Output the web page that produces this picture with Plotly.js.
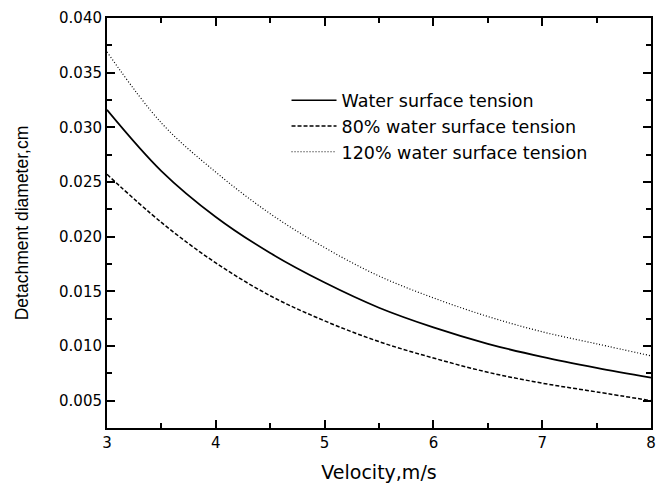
<!DOCTYPE html>
<html>
<head>
<meta charset="utf-8">
<script src="https://cdn.plot.ly/plotly-3.0.1.min.js"></script>
<style>html,body{margin:0;padding:0;background:#fff;}#chart{width:666px;height:484px;}</style>
</head>
<body>
<div id="chart"></div>
<script>
const velocity = [3, 3.5, 4, 4.5, 5, 5.5, 6, 6.5, 7, 7.5, 8];
const waterTension = [0.0316, 0.0260, 0.0218, 0.0185, 0.0158, 0.0135, 0.0117, 0.0102, 0.0090, 0.0080, 0.0071];
const tension80 = [0.0257, 0.0213, 0.0176, 0.0146, 0.0123, 0.0104, 0.0089, 0.0076, 0.0066, 0.0058, 0.0050];
const tension120 = [0.0369, 0.0304, 0.0259, 0.0221, 0.0190, 0.0164, 0.0144, 0.0127, 0.0113, 0.0102, 0.0091];
const seriesNames = ["Water surface tension", "80% water surface tension", "120% water surface tension"];

const wideFont = "DejaVu Sans, Verdana, sans-serif";
const font = "Liberation Sans, Arial, sans-serif";
const traces = [
  {x: velocity, y: waterTension, name: seriesNames[0], mode: "lines",
   line: {color: "#000", width: 1.7, shape: "spline", dash: "solid"}},
  {x: velocity, y: tension80, name: seriesNames[1], mode: "lines",
   line: {color: "#000", width: 1.5, shape: "spline", dash: "4px,2px"}},
  {x: velocity, y: tension120, name: seriesNames[2], mode: "lines",
   line: {color: "#000", width: 1.2, shape: "spline", dash: "1px,2px"}}
];
const layout = {
  width: 666, height: 484,
  margin: {l: 107, r: 15, t: 18, b: 56},
  paper_bgcolor: "#fff", plot_bgcolor: "#fff",
  font: {family: wideFont, color: "#000", size: 14},
  showlegend: true,
  legend: {x: 0.33, y: 0.843, xanchor: "left", yanchor: "top", itemwidth: 45,
           font: {family: wideFont, size: 17.5, color: "#000"},
           bgcolor: "rgba(0,0,0,0)", tracegroupgap: 0},
  xaxis: {range: [3, 8], dtick: 1, tick0: 3, showgrid: false, zeroline: false,
          showline: true, linecolor: "#000", linewidth: 2, mirror: "ticks",
          ticks: "inside", ticklen: 8, tickwidth: 2, tickcolor: "#000",
          minor: {dtick: 0.5, ticks: "inside", ticklen: 5, tickwidth: 2, tickcolor: "#000", showgrid: false},
          tickfont: {family: wideFont, size: 15},
          title: {text: "Velocity,m/s", font: {family: wideFont, size: 19}, standoff: 15}},
  yaxis: {range: [0.0025, 0.040], dtick: 0.005, tick0: 0, tickformat: ".3f", showgrid: false, zeroline: false,
          showline: true, linecolor: "#000", linewidth: 2, mirror: "ticks",
          ticks: "inside", ticklen: 8, tickwidth: 2, tickcolor: "#000",
          minor: {dtick: 0.0025, ticks: "inside", ticklen: 5, tickwidth: 2, tickcolor: "#000", showgrid: false},
          tickfont: {family: wideFont, size: 15},
          title: {text: "Detachment diameter,cm", font: {family: font, size: 17.5}, standoff: 26}}
};
Plotly.newPlot("chart", traces, layout, {displayModeBar: false, staticPlot: true});
</script>
</body>
</html>
